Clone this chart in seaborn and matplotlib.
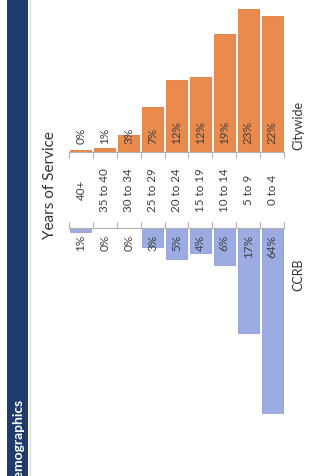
import matplotlib
matplotlib.use("Agg")
import matplotlib.pyplot as plt
import matplotlib.transforms as mtransforms
import pandas as pd
import seaborn as sns

# Years-of-service distribution, CCRB vs. citywide (slide is rotated 90 deg)
categories = ["40+", "35 to 40", "30 to 34", "25 to 29", "20 to 24",
              "15 to 19", "10 to 14", "5 to 9", "0 to 4"]
citywide = [0.4, 0.7, 2.8, 7.3, 11.6, 12.1, 19.0, 23.1, 22.0]
ccrb = [0.6, 0.0, 0.0, 3.0, 5.0, 4.0, 6.0, 17.0, 64.0]
citywide_labels = ["0%", "1%", "3%", "7%", "12%", "12%", "19%", "23%", "22%"]
ccrb_labels = ["1%", "0%", "0%", "3%", "5%", "4%", "6%", "17%", "64%"]

sns.set_theme(style="white")
plt.rcParams["font.family"] = ["Lato", "DejaVu Sans"]

ORANGE = "#EA8A4C"
BLUE = "#9CABE1"
NAVY = "#1F3B6C"
TXT = "#404040"

W, H = 320, 476
fig = plt.figure(figsize=(W / 100, H / 100), dpi=100)
fig.patch.set_facecolor("white")

px = 6.2  # pixels per percentage point
left, right = 69, 284
base_top, base_bot = 152, 228

ax_top = fig.add_axes([left / W, (H - base_top) / H, (right - left) / W, 24 * px / H])
ax_bot = fig.add_axes([left / W, (H - base_bot - 30 * px) / H, (right - left) / W, 30 * px / H])

df_city = pd.DataFrame({"years": categories, "pct": citywide})
df_ccrb = pd.DataFrame({"years": categories, "pct": ccrb})

sns.barplot(data=df_city, x="years", y="pct", order=categories, color=ORANGE,
            width=0.88, edgecolor="#DE7A3A", linewidth=0.6, saturation=1, ax=ax_top)
sns.barplot(data=df_ccrb, x="years", y="pct", order=categories, color=BLUE,
            width=0.88, edgecolor="#8E9ED8", linewidth=0.6, saturation=1, ax=ax_bot)

ax_top.set_ylim(0, 24)
ax_bot.set_ylim(30, 0)

for ax, spine in ((ax_top, "bottom"), (ax_bot, "top")):
    ax.set_xlim(-0.5, len(categories) - 0.5)
    ax.set_facecolor("none")
    for s in ax.spines.values():
        s.set_visible(False)
    ax.spines[spine].set_visible(True)
    ax.spines[spine].set_color("#b0b0b0")
    ax.spines[spine].set_linewidth(0.8)
    ax.set_xlabel("")
    ax.set_ylabel("")
    ax.set_yticks([])
    ax.set_xticks([i - 0.5 for i in range(len(categories) + 1)])
    ax.set_xticklabels([])
    ax.tick_params(axis="x", length=4, width=0.8, color="#b0b0b0",
                   bottom=(spine == "bottom"), top=(spine == "top"), direction="out")

# value labels, rotated, anchored next to each baseline
for i, lab in enumerate(citywide_labels):
    ax_top.annotate(lab, (i, 0), xytext=(0, 6), textcoords="offset points",
                    rotation=90, ha="center", va="bottom", fontsize=8.5, color=TXT)
for i, lab in enumerate(ccrb_labels):
    ax_bot.annotate(lab, (i, 0), xytext=(0, -5), textcoords="offset points",
                    rotation=90, ha="center", va="top", fontsize=8.5, color=TXT)

# category labels between the two panels
trans = mtransforms.blended_transform_factory(ax_top.transData, fig.transFigure)
for i, cat in enumerate(categories):
    ax_top.text(i, (H - 190) / H, cat, transform=trans, rotation=90,
                ha="center", va="center", fontsize=8.4, color=TXT, clip_on=False)

fig.text(50 / W, (H - 185) / H, "Years of Service", rotation=90,
         ha="center", va="center", fontsize=11, color="#333333")
fig.text(298 / W, (H - 125) / H, "Citywide", rotation=90,
         ha="center", va="center", fontsize=9, color="#333333")
fig.text(298 / W, (H - 275) / H, "CCRB", rotation=90,
         ha="center", va="center", fontsize=9, color="#333333")

# slide title band on the left edge
band = fig.add_axes([7 / W, 0, 21 / W, 1])
band.set_facecolor(NAVY)
band.set_xticks([])
band.set_yticks([])
for s in band.spines.values():
    s.set_visible(False)
fig.add_artist(plt.Line2D([29.5 / W, 29.5 / W], [0, 1], color="#d8d8d8", lw=1))
fig.text(17.5 / W, (H - 398) / H, "Demographics", rotation=90, ha="center", va="top",
         fontsize=10, fontweight="bold", color="white")

fig.savefig("out.png", dpi=100)
